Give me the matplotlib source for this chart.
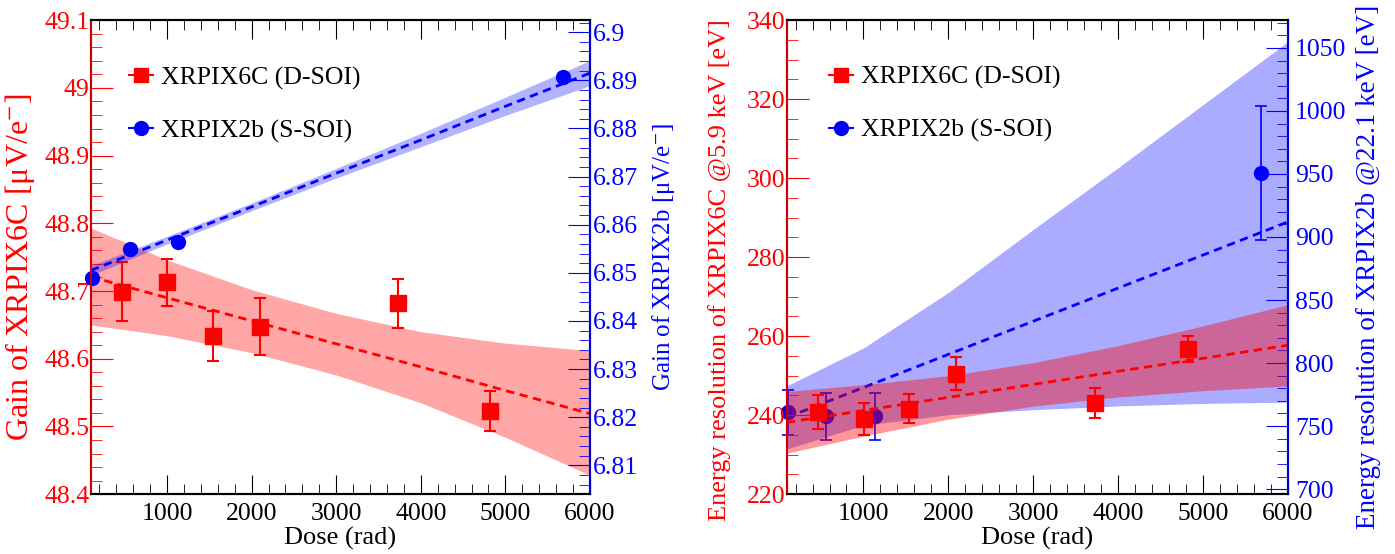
import matplotlib
matplotlib.use("Agg")
import matplotlib.pyplot as plt
from matplotlib.lines import Line2D
from matplotlib.ticker import MultipleLocator, FuncFormatter

plt.rcParams["font.family"] = ["Liberation Serif", "DejaVu Serif"]
plt.rcParams["mathtext.fontset"] = "stix"

RED = "#ff0000"
BLUE = "#0000ff"

# dose points (rad)
dose_6c = [463, 1002, 1542, 2095, 3726, 4818]
dose_2b = [110, 561, 1132, 5680]
band_dose = [100, 1000, 2000, 3000, 4000, 5000, 6000]

# left: gain
gain_6c = [48.699, 48.713, 48.634, 48.647, 48.682, 48.523]
gain_6c_err = [0.044, 0.035, 0.037, 0.042, 0.036, 0.030]
gain_2b = [6.8490, 6.8549, 6.8564, 6.8907]
gain_6c_fit = [48.721, 48.690, 48.656, 48.622, 48.588, 48.553, 48.519]
gain_6c_lo = [48.650, 48.634, 48.609, 48.576, 48.535, 48.484, 48.428]
gain_6c_hi = [48.793, 48.746, 48.702, 48.667, 48.640, 48.623, 48.612]
gain_2b_fit = [6.8505, 6.8568, 6.8637, 6.8707, 6.8776, 6.8846, 6.8915]
gain_2b_lo = [6.8495, 6.8560, 6.8629, 6.8697, 6.8762, 6.8827, 6.8889]
gain_2b_hi = [6.8515, 6.8576, 6.8645, 6.8717, 6.8790, 6.8865, 6.8941]

# right: energy resolution
res_6c = [240.8, 239.0, 241.6, 250.5, 243.0, 256.8]
res_6c_err = [4.4, 4.0, 3.7, 4.1, 3.8, 3.3]
res_2b = [760.9, 757.8, 757.8, 950.6]
res_2b_err = [17.8, 18.8, 18.8, 53.0]
res_6c_fit = [238.2, 241.2, 244.5, 247.8, 251.1, 254.4, 257.7]
res_6c_lo = [230.4, 234.7, 239.0, 242.3, 244.6, 246.2, 247.4]
res_6c_hi = [246.0, 247.7, 250.0, 253.3, 257.6, 262.6, 268.0]
res_2b_fit = [757.0, 780.6, 806.9, 833.2, 859.5, 885.7, 912.0]
res_2b_lo = [732.0, 750.6, 759.0, 763.0, 766.0, 768.0, 769.0]
res_2b_hi = [782.0, 812.0, 856.0, 906.0, 955.0, 1005.0, 1055.0]

labels = ["XRPIX6C (D-SOI)", "XRPIX2b (S-SOI)"]
fmt = FuncFormatter(lambda v, p: f"{v:g}")
TICK_FS = 18.5


def style_axes(ax, ax2, ymin_loc, ymaj_loc, y2min_loc, y2maj_loc, pad_l, pad_r):
    ax.set_xlim(100, 6000)
    ax.xaxis.set_major_locator(MultipleLocator(1000))
    ax.xaxis.set_minor_locator(MultipleLocator(200))
    ax.yaxis.set_major_locator(MultipleLocator(ymaj_loc))
    ax.yaxis.set_minor_locator(MultipleLocator(ymin_loc))
    ax2.yaxis.set_major_locator(MultipleLocator(y2maj_loc))
    ax2.yaxis.set_minor_locator(MultipleLocator(y2min_loc))
    ax.yaxis.set_major_formatter(fmt)
    ax2.yaxis.set_major_formatter(fmt)
    ax.tick_params(axis="x", which="both", direction="in", top=True, labelsize=TICK_FS, pad=6)
    ax.tick_params(axis="x", which="major", length=14)
    ax.tick_params(axis="x", which="minor", length=7)
    ax.tick_params(axis="y", which="both", direction="in", right=False, colors=RED,
                   labelsize=TICK_FS, pad=pad_l)
    ax.tick_params(axis="y", which="major", length=16)
    ax.tick_params(axis="y", which="minor", length=8)
    ax2.tick_params(axis="y", which="both", direction="in", colors=BLUE,
                    labelsize=TICK_FS, pad=pad_r)
    ax2.tick_params(axis="y", which="major", length=16)
    ax2.tick_params(axis="y", which="minor", length=8)
    for a in (ax, ax2):
        a.spines["left"].set_color("#cc0000")
        a.spines["right"].set_color("#0000cc")
        for s in a.spines.values():
            s.set_linewidth(1.5)
    ax.set_xlabel("Dose (rad)", fontsize=19)
    ax.xaxis.set_label_coords(0.5, -0.07)


def add_legend(ax, x, y):
    handles = [
        Line2D([], [], color=RED, marker="s", markersize=10, lw=1.5),
        Line2D([], [], color=BLUE, marker="o", markersize=10, lw=1.5),
    ]
    ax.legend(handles, labels, loc="upper left", bbox_to_anchor=(x, y), frameon=False,
              fontsize=18.5, handlelength=0.95, labelspacing=1.15, handletextpad=0.3,
              borderaxespad=0)


fig = plt.figure(figsize=(13.95, 5.54), dpi=100)

# ---- left panel: gain ----
ax = fig.add_axes([0.0652, 0.108, 0.3577, 0.8556])
ax2 = ax.twinx()
ax.fill_between(band_dose, gain_6c_lo, gain_6c_hi, color=RED, alpha=0.35, lw=0)
ax.plot(band_dose, gain_6c_fit, color=RED, ls=(0, (3, 2)), lw=2)
ax.errorbar(dose_6c, gain_6c, yerr=gain_6c_err, fmt="s", color=RED, ms=11,
            elinewidth=1.5, capsize=4, capthick=1.5)
ax.set_ylim(48.4, 49.1)
ax2.fill_between(band_dose, gain_2b_lo, gain_2b_hi, color=BLUE, alpha=0.3, lw=0)
ax2.plot(band_dose, gain_2b_fit, color=BLUE, ls=(0, (3, 2)), lw=2)
ax2.plot(dose_2b, gain_2b, "o", color=BLUE, ms=10, clip_on=False)
ax2.set_ylim(6.8040, 6.9025)
style_axes(ax, ax2, 0.02, 0.1, 0.002, 0.01, 1, 2)
ax.set_ylabel("Gain of XRPIX6C [μV/e$^{-}$]", color=RED, fontsize=23)
ax.yaxis.set_label_coords(-0.108, 0.478)
ax2.set_ylabel("Gain of XRPIX2b [μV/e$^{-}$]", color=BLUE, fontsize=18)
ax2.yaxis.set_label_coords(1.12, 0.5)
add_legend(ax2, 0.055, 0.924)

# ---- right panel: energy resolution ----
bx = fig.add_axes([0.5642, 0.108, 0.3591, 0.8556])
bx2 = bx.twinx()
bx.set_zorder(bx2.get_zorder() + 1)
bx.patch.set_visible(False)
bx2.fill_between(band_dose, res_2b_lo, res_2b_hi, color=BLUE, alpha=0.33, lw=0)
bx2.plot(band_dose, res_2b_fit, color=BLUE, ls=(0, (3, 2)), lw=2)
bx2.errorbar(dose_2b, res_2b, yerr=res_2b_err, fmt="o", color=BLUE, ms=10,
             elinewidth=1.2, capsize=4, capthick=1.2, clip_on=False)
bx2.set_ylim(696, 1072)
bx.fill_between(band_dose, res_6c_lo, res_6c_hi, color=RED, alpha=0.4, lw=0)
bx.plot(band_dose, res_6c_fit, color=RED, ls=(0, (3, 2)), lw=2)
bx.errorbar(dose_6c, res_6c, yerr=res_6c_err, fmt="s", color=RED, ms=11,
            elinewidth=1.5, capsize=4, capthick=1.5)
bx.set_ylim(220, 340)
style_axes(bx, bx2, 5, 20, 10, 50, 1, 5)
bx.set_ylabel("Energy resolution of XRPIX6C @5.9 keV [eV]", color=RED, fontsize=19)
bx.yaxis.set_label_coords(-0.112, 0.473)
bx2.set_ylabel("Energy resolution of XRPIX2b @22.1 keV [eV]", color=BLUE, fontsize=19.5)
bx2.yaxis.set_label_coords(1.136, 0.479)
add_legend(bx, 0.063, 0.925)

fig.savefig("out.png", dpi=100)
